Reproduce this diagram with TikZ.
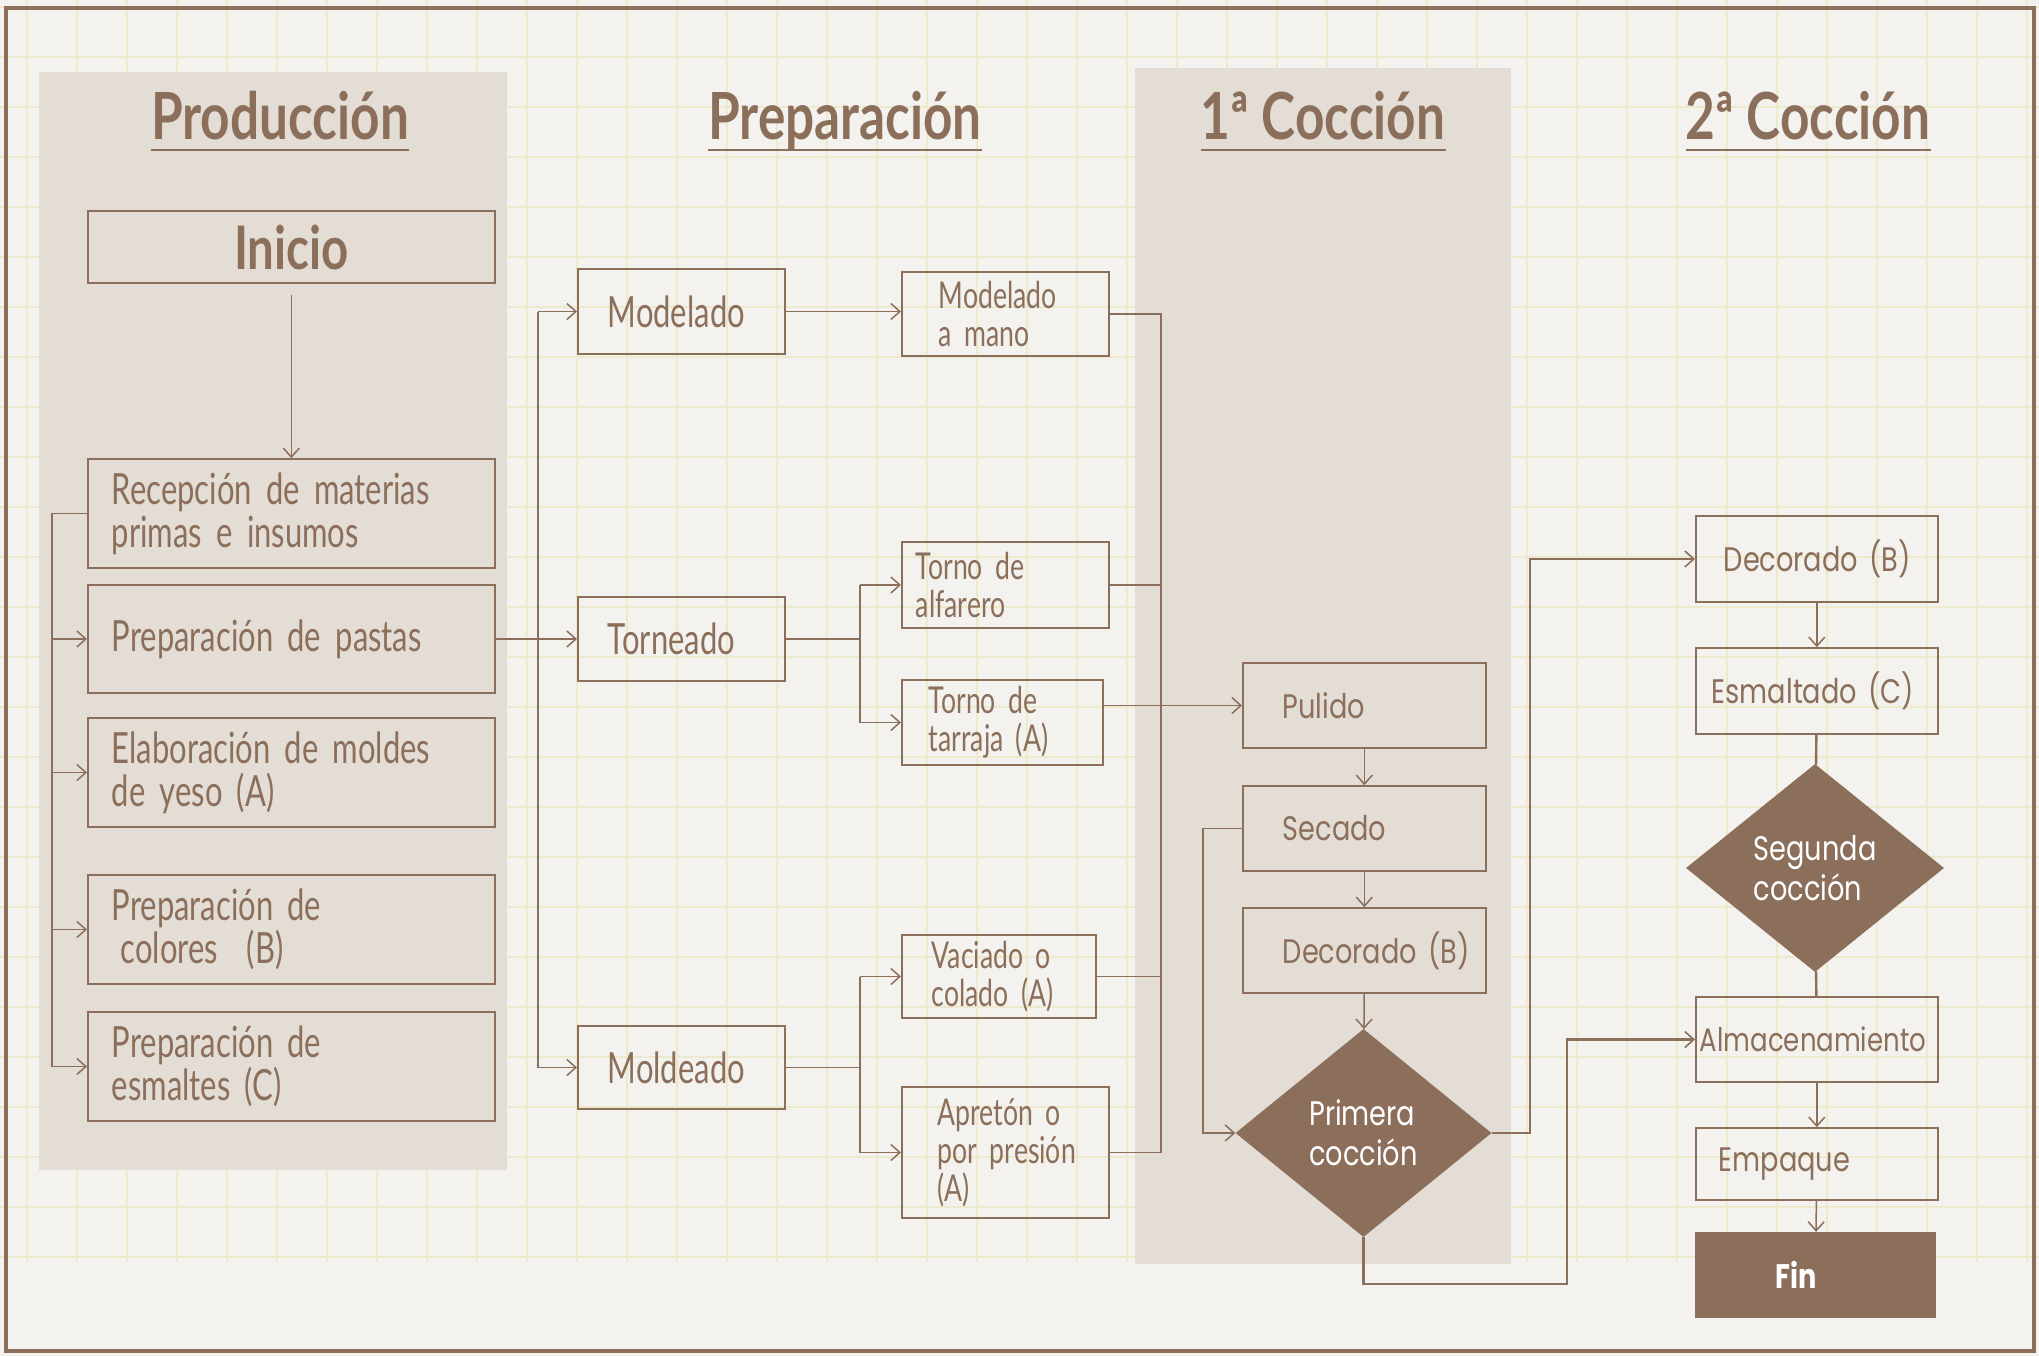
\documentclass[tikz,border=0pt]{standalone}
\usepackage{fontspec}
\setmainfont{Lato}
\newfontfamily\condf[FakeStretch=0.72,WordSpace=0.8]{Lato}
\newfontfamily\headf[FakeStretch=0.79]{Lato}
\newfontfamily\roundf[FakeStretch=0.8]{Poppins}
\usetikzlibrary{shapes.geometric,arrows.meta}
\definecolor{brn}{RGB}{139,111,91}
\definecolor{paper}{RGB}{243,242,238}
\definecolor{gridc}{RGB}{237,233,204}
\definecolor{panel}{RGB}{227,221,214}
\lefthyphenmin=64
\newcommand\nbx[1]{\mbox{#1}}
\begin{document}
\begin{tikzpicture}[x=1pt,y=-1pt,
  every node/.style={text=brn},
  box/.style={draw=brn, line width=1.6pt, rectangle, inner ysep=0pt, align=left, anchor=west},
  pfont/.style={font=\condf\fontsize{43}{43}\selectfont},
  sfont/.style={font=\condf\fontsize{37}{38}\selectfont},
  mfont/.style={font=\condf\fontsize{43}{44}\selectfont},
  rfont/.style={font=\roundf\fontsize{34}{36}\selectfont},
  conn/.style={draw=brn, line width=1.5pt},
  arr/.style={conn, -{Straight Barb[length=9pt,width=16pt,line width=1.5pt]}},
  heavy/.style={draw=brn, line width=2.4pt},
  heavyarr/.style={heavy, -{Straight Barb[length=9pt,width=16pt,line width=1.6pt]}},
  hdr/.style={font=\headf\bfseries\fontsize{65}{66}\selectfont, inner sep=0pt, anchor=base},
  uline/.style={draw=brn, line width=1.3pt},
  dia/.style={diamond, fill=brn, inner sep=0pt, text=white, align=left, font=\roundf\fontsize{34}{40}\selectfont}
]
% background and grid
\fill[paper] (0,0) rectangle (2039,1356);
\useasboundingbox (0,0) rectangle (2039,1356);
\foreach \i in {0,...,40} \draw[gridc, line width=2.5pt] (27+50*\i,0) -- (27+50*\i,1262);
\foreach \j in {0,...,25} \draw[gridc, line width=2.5pt] (0,7+50*\j) -- (2039,7+50*\j);
% panels
\fill[panel] (39,72) rectangle (507,1170);
\fill[panel] (1135,68) rectangle (1511,1264);
% frame
\draw[brn, line width=3.5pt] (6,8) rectangle (2034,1351);

% headers
\node[hdr] (h1) at (280,140) {Producción};
\node[hdr] (h2) at (845,140) {Preparación};
\node[hdr] (h3) at (1323,140) {1ª Cocción};
\node[hdr] (h4) at (1808,140) {2ª Cocción};
\foreach \h in {h1,h2,h3,h4}
  \draw[uline] ([yshift=-10pt]\h.base west) -- ([yshift=-10pt]\h.base east);

% Producción column (x 87-494, pad 24)
\node[box, font=\headf\bfseries\fontsize{60}{62}\selectfont, align=center, minimum width=407pt, minimum height=72pt, inner xsep=0pt] (inicio) at (87,247) {Inicio};
\node[box,pfont,minimum height=109pt,text width=359pt,inner xsep=24pt] (recep) at (87,513.5) {\nbx{Recepción de materias}\\\nbx{primas e insumos}};
\node[box,pfont,minimum height=108pt,text width=359pt,inner xsep=24pt] (pastas) at (87,639) {\nbx{Preparación de pastas}};
\node[box,pfont,minimum height=109pt,text width=359pt,inner xsep=24pt] (moldes) at (87,772.5) {\nbx{Elaboración de moldes}\\\nbx{de yeso (A)}};
\node[box,pfont,minimum height=109pt,text width=359pt,inner xsep=24pt] (colores) at (87,929.5) {\nbx{Preparación de}\\\nbx{\hspace*{9pt}colores\ \ (B)}};
\node[box,pfont,minimum height=109pt,text width=359pt,inner xsep=24pt] (esmaltes) at (87,1066.5) {\nbx{Preparación de}\\\nbx{esmaltes (C)}};

% Preparación column (x 577-784, pad 30)
\node[box,mfont,minimum height=85pt,text width=147pt,inner xsep=30pt] (modelado) at (577,311.5) {Modelado};
\node[box,mfont,minimum height=84pt,text width=147pt,inner xsep=30pt] (torneado) at (577,639) {Torneado};
\node[box,mfont,minimum height=83pt,text width=147pt,inner xsep=30pt] (moldeado) at (577,1067.5) {Moldeado};

% sub-processes
\node[box,sfont,minimum height=84pt,text width=133pt,inner xsep=37pt] (mano) at (901,314) {\nbx{Modelado}\\\nbx{a mano}};
\node[box,sfont,minimum height=86pt,text width=179pt,inner xsep=14pt] (alfarero) at (901,585) {\nbx{Torno de}\\\nbx{alfarero}};
\node[box,sfont,minimum height=85pt,text width=147pt,inner xsep=27pt] (tarraja) at (901,722.5) {\nbx{Torno de}\\\nbx{tarraja (A)}};
\node[box,sfont,minimum height=83pt,text width=134pt,inner xsep=30pt] (vaciado) at (901,976.5) {\nbx{Vaciado o}\\\nbx{colado (A)}};
\node[box,sfont,minimum height=131pt,text width=135pt,inner xsep=36pt] (apreton) at (901,1152.5) {\nbx{Apretón o}\\\nbx{por presión}\\\nbx{(A)}};

% 1ª Cocción (x 1242-1485, pad 40)
\node[box,rfont,minimum height=85pt,text width=163pt,inner xsep=40pt] (pulido) at (1242,705.5) {\nbx{Pulido}};
\node[box,rfont,minimum height=85pt,text width=163pt,inner xsep=40pt] (secado) at (1242,828.5) {\nbx{Secado}};
\node[box,rfont,minimum height=85pt,text width=163pt,inner xsep=40pt] (decor1) at (1242,950.5) {\nbx{Decorado (B)}};
\node[dia, minimum width=256pt, minimum height=208pt] (prim) at (1363.5,1133) {Primera\\cocción};

% 2ª Cocción (x 1695-1937)
\node[box,rfont,minimum height=86pt,text width=186pt,inner xsep=28pt] (decor2) at (1695,559) {\nbx{Decorado (B)}};
\node[box,rfont,minimum height=86pt,text width=210pt,inner xsep=16pt] (esmalt) at (1695,691) {\nbx{Esmaltado (C)}};
\node[dia, minimum width=258pt, minimum height=208pt] (seg) at (1815,868) {Segunda\\cocción};
\node[box,rfont,minimum height=85pt,text width=234pt,inner xsep=4pt] (almac) at (1695,1039.5) {\nbx{\fontsize{32.5}{36}\selectfont Almacenamiento}};
\node[box,rfont,minimum height=72pt,text width=196pt,inner xsep=23pt] (empaque) at (1695,1164) {\nbx{Empaque}};
\node[rectangle, fill=brn, text=white, align=left, font=\roundf\bfseries\fontsize{34}{36}\selectfont, text width=80pt, inner xsep=80.5pt, inner ysep=0pt, minimum height=86pt] (fin) at (1815.5,1275) {Fin};

% connectors: Producción
\draw[arr] ([yshift=-11pt]inicio.south) -- (inicio.south |- recep.north);
\coordinate (lbus) at (52,0);
\draw[conn] (recep.west) -- (lbus |- recep.west) -- (lbus |- esmaltes.west);
\foreach \n in {pastas,moldes,colores,esmaltes}
  \draw[arr] (lbus |- \n.west) -- (\n.west);

% Producción -> Preparación
\draw[arr] (pastas.east) -- (torneado.west);
\coordinate (pbus) at (538,0);
\draw[conn] (pbus |- modelado.west) -- (pbus |- moldeado.west);
\draw[arr] (pbus |- modelado.west) -- (modelado.west);
\draw[arr] (pbus |- moldeado.west) -- (moldeado.west);

% Preparación -> sub-processes
\draw[arr] (modelado.east) -- (mano.west |- modelado.east);
\coordinate (tsplit) at (860,0);
\draw[conn] (torneado.east) -- (tsplit |- torneado.east);
\draw[conn] (tsplit |- alfarero.west) -- (tsplit |- tarraja.west);
\draw[arr] (tsplit |- alfarero.west) -- (alfarero.west);
\draw[arr] (tsplit |- tarraja.west) -- (tarraja.west);
\draw[conn] (moldeado.east) -- (tsplit |- moldeado.east);
\draw[conn] (tsplit |- vaciado.west) -- (tsplit |- apreton.west);
\draw[arr] (tsplit |- vaciado.west) -- (vaciado.west);
\draw[arr] (tsplit |- apreton.west) -- (apreton.west);

% sub-processes -> Pulido
\coordinate (rbus) at (1161,0);
\draw[conn] (mano.east) -- (rbus |- mano.east) -- (rbus |- apreton.east) -- (apreton.east);
\draw[conn] (alfarero.east) -- (rbus |- alfarero.east);
\draw[conn] (vaciado.east) -- (rbus |- vaciado.east);
\draw[arr] (tarraja.east |- pulido.west) -- (pulido.west);

% 1ª Cocción
\draw[arr] (pulido) -- (secado);
\draw[arr] (secado) -- (decor1);
\draw[arr] (decor1) -- (prim);
\draw[arr] (secado.west) -- ++(-39,0) |- (prim.west);

% 1ª -> 2ª
\coordinate (rx1) at (1530,0);
\draw[heavyarr] (prim.east) -- (rx1 |- prim.east) -- (rx1 |- decor2.west) -- (decor2.west);
\coordinate (bx) at (1567,1284);
\draw[heavyarr] (prim.south) |- (bx) |- (almac.west);

% 2ª Cocción
\draw[arr] (decor2) -- (esmalt);
\draw[heavy] (esmalt) -- (seg);
\draw[heavy] (seg) -- (almac);
\draw[arr] (almac) -- (empaque);
\draw[arr] (empaque) -- (fin);
\end{tikzpicture}
\end{document}
